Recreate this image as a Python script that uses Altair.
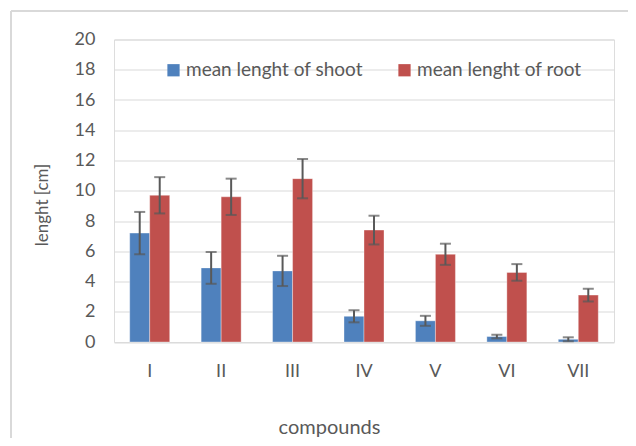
import altair as alt
import pandas as pd

compounds = ["I", "II", "III", "IV", "V", "VI", "VII"]
series = ["mean lenght of shoot", "mean lenght of root"]
shoot = [7.2, 4.9, 4.7, 1.7, 1.4, 0.36, 0.18]
shoot_err = [1.4, 1.05, 1.0, 0.4, 0.33, 0.12, 0.13]
root = [9.7, 9.6, 10.8, 7.4, 5.8, 4.6, 3.1]
root_err = [1.2, 1.2, 1.3, 0.95, 0.7, 0.55, 0.42]
y_ticks = [0, 2, 4, 6, 8, 10, 12, 14, 16, 18, 20]

rows = []
for c, v, e in zip(compounds, shoot, shoot_err):
    rows.append({"compound": c, "series": series[0], "value": v, "lo": v - e, "hi": v + e})
for c, v, e in zip(compounds, root, root_err):
    rows.append({"compound": c, "series": series[1], "value": v, "lo": v - e, "hi": v + e})
df = pd.DataFrame(rows)

FONT = "Lato"
GRAY = "#595959"

xaxis = alt.Axis(
    title="compounds", labelAngle=0, ticks=False, domain=False, grid=False,
    labelPadding=20, labelFontSize=18, labelColor=GRAY, labelFont=FONT,
    titleFontSize=20, titleColor=GRAY, titleFont=FONT, titleFontWeight="normal",
    titleX=215, titleY=91, titleBaseline="alphabetic", titleAnchor="middle", titleAlign="center",
)
yaxis = alt.Axis(
    title="lenght [cm]", values=y_ticks, labelOverlap=False,
    ticks=False, domain=False,
    labelPadding=19, labelFontSize=18, labelColor=GRAY, labelFont=FONT,
    gridColor="#D9D9D9", gridWidth=1.2,
    titleFontSize=17, titleColor=GRAY, titleFont=FONT, titleFontWeight="normal",
    titleX=-72, titleY=165, titleBaseline="middle", titleAnchor="middle", titleAlign="center",
)
xscale = alt.Scale(paddingInner=0.44, paddingOuter=0.22)
yscale = alt.Scale(domain=[0, 20], nice=False)

x = alt.X("compound:N", sort=compounds, scale=xscale, axis=xaxis)
xoff = alt.XOffset("series:N", sort=series)

base = alt.Chart(df)

bars = base.mark_bar(strokeWidth=1, strokeOpacity=0.35, stroke="white").encode(
    x=x,
    xOffset=xoff,
    y=alt.Y("value:Q", scale=yscale, axis=yaxis),
    color=alt.Color(
        "series:N",
        sort=series,
        scale=alt.Scale(domain=series, range=["#4F81BD", "#C0504D"]),
        legend=alt.Legend(
            title=None, orient="none", direction="horizontal", legendX=50, legendY=21,
            symbolType="square", symbolSize=150, symbolStrokeWidth=0, symbolOpacity=1,
            labelFontSize=19, labelColor=GRAY, labelFont=FONT, labelOffset=3,
            labelLimit=400, columnPadding=32,
        ),
    ),
)

rules = base.mark_rule(color=GRAY, strokeWidth=2).encode(
    x=x,
    xOffset=xoff,
    y=alt.Y("lo:Q", scale=yscale, axis=yaxis),
    y2="hi:Q",
)
caps_hi = base.mark_tick(color=GRAY, thickness=2, size=11, orient="horizontal").encode(
    x=x,
    xOffset=xoff,
    y=alt.Y("hi:Q", scale=yscale, axis=yaxis),
)
caps_lo = base.mark_tick(color=GRAY, thickness=2, size=11, orient="horizontal").encode(
    x=x,
    xOffset=xoff,
    y=alt.Y("lo:Q", scale=yscale, axis=yaxis),
)

border_left = alt.Chart(pd.DataFrame({"a": [0]})).mark_rule(color="#D9D9D9", strokeWidth=2).encode(
    x=alt.value(-103), y=alt.value(-28.5), y2=alt.value(420)
)
border_top = alt.Chart(pd.DataFrame({"a": [0]})).mark_rule(color="#D9D9D9", strokeWidth=2).encode(
    x=alt.value(-103), x2=alt.value(530), y=alt.value(-28.5)
)

chart = alt.layer(bars, rules, caps_hi, caps_lo, border_left, border_top).properties(
    width=500,
    height=302.5,
    autosize=alt.AutoSizeParams(type="none"),
    padding={"left": 106, "top": 31.5, "right": 14, "bottom": 96},
).configure_view(stroke="transparent", strokeWidth=0, strokeOpacity=0).configure_axisX(grid=False).configure(background="white")

chart.save("out.html", embed_options={"renderer": "svg", "actions": False})
